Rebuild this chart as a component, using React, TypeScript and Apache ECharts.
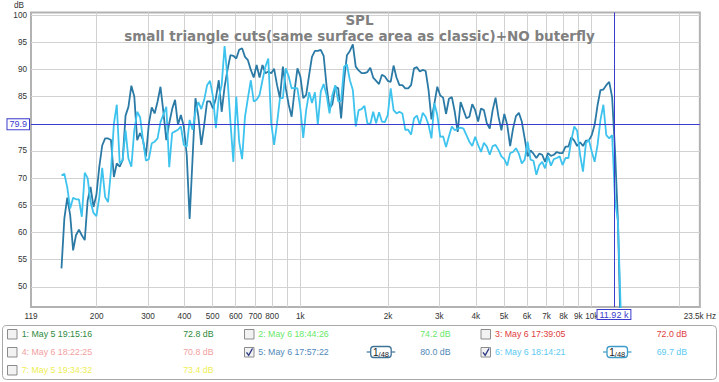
import React, { useEffect, useRef } from "react";
import * as echarts from "echarts";

// ---- data ----
const freqHz = [
  151.4, 154.9, 158.5, 162.2, 166.0, 169.8, 173.8, 177.8, 182.0, 186.2,
  190.5, 195.0, 199.5, 204.2, 208.9, 213.8, 218.8, 223.9, 229.1, 234.4,
  239.9, 245.5, 251.2, 257.0, 263.0, 269.2, 275.4, 281.8, 288.4, 295.1,
  302.0, 309.0, 316.2, 323.6, 331.1, 338.8, 346.7, 354.8, 363.1, 371.5,
  380.2, 389.0, 398.1, 407.4, 416.9, 426.6, 436.5, 446.7, 457.1, 467.7,
  478.6, 489.8, 501.2, 512.9, 524.8, 537.0, 549.5, 562.3, 575.4, 588.8,
  602.6, 616.6, 631.0, 645.7, 660.7, 676.1, 691.8, 707.9, 724.4, 741.3,
  758.6, 776.2, 794.3, 812.8, 831.8, 851.1, 871.0, 891.3, 912.0, 933.3,
  955.0, 977.2, 1000, 1023, 1047, 1072, 1096, 1122, 1148, 1175,
  1202, 1230, 1259, 1288, 1318, 1349, 1380, 1413, 1445, 1479,
  1514, 1549, 1585, 1622, 1660, 1698, 1738, 1778, 1820, 1862,
  1905, 1950, 1995, 2042, 2089, 2138, 2188, 2239, 2291, 2344,
  2399, 2455, 2512, 2570, 2630, 2692, 2754, 2818, 2884, 2951,
  3020, 3090, 3162, 3236, 3311, 3388, 3467, 3548, 3631, 3715,
  3802, 3890, 3981, 4074, 4169, 4266, 4365, 4467, 4571, 4677,
  4786, 4898, 5012, 5129, 5248, 5370, 5495, 5623, 5754, 5888,
  6026, 6166, 6310, 6457, 6607, 6761, 6918, 7079, 7244, 7413,
  7586, 7762, 7943, 8128, 8318, 8511, 8710, 8913, 9120, 9333,
  9550, 9772, 10000, 10233, 10471, 10715, 10965, 11220, 11482, 11749,
  12023, 12303, 12589,
];

// trace 5 (dark blue)
const trace5Db = [
  53.4, 62.6, 66.4, 63.2, 56.7, 59.5, 60.5, 59.5, 58.6, 65.9,
  68.4, 64.7, 66.9, 72.1, 76.0, 77.3, 77.3, 77.0, 70.2, 72.7,
  72.1, 73.3, 81.5, 83.1, 87.0, 85.0, 77.0, 78.3, 77.0, 74.0,
  80.0, 83.0, 81.9, 84.1, 86.8, 82.2, 77.0, 80.1, 82.7, 84.4,
  79.8, 81.6, 79.5, 74.3, 62.5, 73.6, 84.7, 81.3, 76.1, 79.8,
  84.1, 84.1, 82.8, 84.7, 88.0, 82.2, 86.8, 89.9, 92.6, 92.5,
  92.0, 93.6, 93.9, 92.3, 91.7, 89.9, 88.5, 90.8, 88.5, 90.8,
  89.3, 89.6, 89.3, 90.1, 87.1, 84.7, 90.5, 86.5, 83.5, 81.3,
  86.0, 90.2, 88.7, 84.7, 85.3, 89.0, 92.3, 93.4, 93.4, 93.6,
  92.5, 87.0, 82.8, 83.6, 86.8, 86.5, 81.0, 88.0, 92.6, 93.4,
  94.6, 90.5, 89.8, 89.3, 89.3, 89.5, 90.3, 88.5, 87.9, 87.3,
  89.0, 88.7, 87.9, 87.7, 90.7, 88.5, 87.1, 87.1, 86.5, 86.5,
  87.1, 90.2, 90.4, 89.6, 89.9, 89.7, 86.2, 80.8, 83.7, 86.8,
  85.2, 84.8, 81.8, 84.6, 84.9, 82.2, 78.5, 84.0, 82.5, 81.0,
  81.3, 83.6, 82.5, 80.4, 82.8, 82.5, 80.1, 79.1, 82.5, 84.8,
  81.3, 78.8, 81.8, 79.8, 75.9, 79.1, 81.4, 82.0, 80.4, 77.3,
  74.0, 75.1, 74.5, 73.7, 74.5, 74.3, 73.0, 74.6, 74.1, 74.3,
  74.8, 74.6, 74.6, 75.8, 75.8, 77.5, 76.9, 75.9, 76.6, 75.9,
  76.9, 76.9, 77.9, 79.8, 83.4, 86.2, 86.3, 87.1, 87.7, 84.9,
  75.0, 62.0, 40.0,
];

// trace 6 (light blue)
const trace6Db = [
  70.5, 70.8, 68.3, 64.4, 66.4, 66.1, 66.1, 62.9, 71.0, 70.0,
  65.6, 63.6, 63.0, 66.5, 71.9, 66.5, 65.6, 71.4, 80.0, 83.5,
  72.7, 73.3, 78.8, 73.6, 72.1, 78.8, 82.2, 81.2, 77.0, 73.2,
  73.5, 76.4, 76.7, 77.3, 80.3, 81.7, 83.1, 72.0, 78.3, 78.6,
  78.9, 79.5, 76.1, 75.8, 80.7, 78.9, 82.2, 84.0, 82.7, 84.4,
  87.1, 87.9, 85.0, 79.2, 84.8, 87.1, 94.3, 88.4, 80.4, 73.0,
  85.0, 76.7, 73.5, 81.3, 84.7, 88.0, 84.1, 84.4, 85.3, 88.0,
  90.5, 92.0, 80.1, 76.1, 80.1, 84.7, 84.7, 90.2, 88.7, 86.5,
  86.6, 86.5, 82.8, 77.4, 82.5, 85.8, 83.8, 85.8, 79.8, 85.9,
  87.3, 85.3, 81.9, 85.3, 87.1, 84.1, 84.2, 90.5, 90.9, 88.0,
  86.2, 79.5, 82.5, 82.7, 83.3, 80.1, 79.9, 82.2, 80.1, 82.1,
  80.4, 80.3, 81.6, 86.5, 82.5, 81.9, 82.2, 81.9, 78.9, 78.9,
  78.0, 81.0, 81.5, 79.8, 82.0, 81.3, 79.8, 77.3, 83.8, 81.6,
  77.6, 77.7, 75.7, 77.7, 79.5, 78.8, 79.1, 79.3, 79.1, 77.9,
  76.7, 75.9, 77.6, 76.1, 74.8, 76.5, 75.8, 74.3, 75.9, 76.1,
  75.2, 74.0, 73.5, 72.3, 74.6, 74.8, 75.5, 74.5, 72.7, 73.4,
  76.7, 73.4, 73.2, 70.6, 72.4, 73.0, 71.8, 74.0, 72.3, 73.5,
  73.7, 74.0, 72.4, 73.7, 73.7, 77.0, 79.5, 78.7, 74.3, 71.2,
  76.4, 77.1, 74.9, 73.0, 76.1, 80.7, 83.5, 77.9, 77.3, 77.9,
  66.0, 62.0, 45.0,
];

const yTicks = [50, 55, 60, 65, 70, 75, 80, 85, 90, 95, 100];
const yLabelTicks = [50, 55, 60, 65, 70, 75, 85, 90, 95, 100];
const yRange = [46.3, 100.46];
const xRangeHz = [119, 23500];
const xGridHz = [200, 300, 400, 500, 600, 700, 800, 900, 1000, 2000, 3000, 4000, 5000, 6000, 7000, 8000, 9000, 10000, 20000];
const xLabelHz = [119, 200, 300, 400, 500, 600, 700, 800, 1000, 2000, 3000, 4000, 5000, 6000, 7000, 8000, 9000, 10000, 23500];

const cursorHz = 11920;
const cursorDb = 79.9;

const titleText = "SPL";
const subtitleText = "small triangle cuts(same surface area as classic)+NO buterfly";

const legendLabels = [
  "1: May 5 19:15:16", "2: May 6 18:44:26", "3: May 6 17:39:05",
  "4: May 6 18:22:25", "5: May 6 17:57:22", "6: May 6 18:14:21",
  "7: May 5 19:34:32",
];
const legendValues = ["72.8 dB", "74.2 dB", "72.0 dB", "70.8 dB", "80.0 dB", "69.7 dB", "73.4 dB"];
const legendColors = ["#2e8a3e", "#68e868", "#e03c3c", "#f2a0a0", "#5088b8", "#5ccaf2", "#eeee55"];
const legendChecked = [false, false, false, false, true, true, false];
const legendSmoothing = ["", "", "", "", "1/48", "1/48", ""];

const trace5Color = "#2b7aa6";
const trace6Color = "#3ec3ef";
const cursorColor = "#3a3acc";
const FONT = "Liberation Sans, Arial, sans-serif";
const TITLE_FONT = "DejaVu Sans, Verdana, sans-serif";

function fmtHz(v: number): string {
  const f = Math.round(Math.pow(10, v));
  if (f >= 23000) return (f / 1000).toString() + "k Hz";
  if (f >= 1000) return (f / 1000).toString() + "k";
  return String(f);
}

function buildLegend(): any[] {
  const els: any[] = [];
  els.push({
    type: "rect",
    shape: { x: 2.5, y: 325.5, width: 714, height: 54, r: 4 },
    style: { fill: "#ffffff", stroke: "#a8a8a8", lineWidth: 1 },
  });
  const colCheckX = [7.5, 244.5, 481];
  const colTextX = [21.7, 258.3, 495];
  const colIconX = [130, 366.7, 603];
  const colValueRight = [213.5, 450.5, 687];
  const rowY = [334, 352, 370];
  legendLabels.forEach((label, i) => {
    const row = Math.floor(i / 3);
    const col = i % 3;
    const cy = rowY[row];
    const cx = colCheckX[col];
    els.push({
      type: "rect",
      shape: { x: cx, y: cy - 4.5, width: 9.5, height: 9.5 },
      style: { fill: "#f2f2f2", stroke: "#8c8c8c", lineWidth: 1 },
    });
    if (legendChecked[i]) {
      els.push({
        type: "polyline",
        shape: { points: [[cx + 2, cy + 0.3], [cx + 4.2, cy + 3.3], [cx + 8, cy - 3.5]] },
        style: { fill: null, stroke: "#2d3a86", lineWidth: 1.4 },
      });
    }
    els.push({
      type: "text",
      style: {
        text: label, x: colTextX[col], y: cy, fill: legendColors[i],
        fontSize: 8.8, fontFamily: FONT,
        textAlign: "left", align: "left", textVerticalAlign: "middle", verticalAlign: "middle",
      },
    });
    els.push({
      type: "text",
      style: {
        text: legendValues[i], x: colValueRight[col], y: cy, fill: legendColors[i],
        fontSize: 8.8, fontFamily: FONT,
        textAlign: "right", align: "right", textVerticalAlign: "middle", verticalAlign: "middle",
      },
    });
    if (legendSmoothing[i]) {
      const ix = colIconX[col];
      const c = i === 4 ? "#3f7396" : "#3f9cc8";
      els.push({
        type: "line",
        shape: { x1: ix, y1: cy, x2: ix + 28.5, y2: cy },
        style: { stroke: c, lineWidth: 1.2 },
      });
      els.push({
        type: "rect",
        shape: { x: ix + 4, y: cy - 5.5, width: 20.5, height: 11, r: 3 },
        style: { fill: "#ffffff", stroke: c, lineWidth: 1.3 },
      });
      els.push({
        type: "text",
        style: {
          text: "{a|1}{b|/48}", x: ix + 14.3, y: cy + 0.5,
          textAlign: "center", align: "center", textVerticalAlign: "middle", verticalAlign: "middle",
          rich: {
            a: { fontSize: 10, fontFamily: FONT, fill: "#222", color: "#222" },
            b: { fontSize: 7.5, fontFamily: FONT, fill: "#222", color: "#222", padding: [3, 0, 0, 0] },
          },
        },
      });
    }
  });
  return els;
}

export default function App() {
  const ref = useRef<HTMLDivElement>(null);
  useEffect(() => {
    if (!ref.current) return;
    const chart = echarts.init(ref.current, null, { renderer: "svg" });
    const lx = Math.log10;
    const cursorLine = { color: cursorColor, width: 1, type: "solid", opacity: 1 };
    const cursorLabel = {
      show: true,
      color: cursorColor, fontSize: 9, fontFamily: FONT,
      backgroundColor: "#ffffff", borderColor: cursorColor, borderWidth: 1,
    };
    const titleStyle = { fontSize: 13.5, fontWeight: "bold", color: "#808080", fontFamily: TITLE_FONT, lineHeight: 14 };
    const option: any = {
      animation: false,
      backgroundColor: "#ffffff",
      title: [
        { text: titleText, left: "center", top: 12.8, padding: 0, textStyle: titleStyle },
        { text: subtitleText, left: "center", top: 28.8, padding: 0, textStyle: titleStyle },
      ],
      grid: {
        left: 31, right: 14.6, top: 12.5, bottom: 75,
        show: true, borderColor: "#b2b2b2", borderWidth: 2, backgroundColor: "transparent",
      },
      xAxis: {
        type: "value",
        min: lx(xRangeHz[0]),
        max: lx(xRangeHz[1]),
        axisLine: { show: false },
        axisTick: { show: false, customValues: xGridHz.map((v) => lx(v)) },
        splitLine: { show: true, lineStyle: { color: "#d2d2d2", width: 1 } },
        axisLabel: {
          customValues: xLabelHz.map((v) => lx(v)),
          formatter: (v: number) => fmtHz(v),
          showMinLabel: true, showMaxLabel: true,
          margin: 5, fontSize: 8.2, color: "#333", fontFamily: FONT,
        },
      },
      yAxis: {
        type: "value",
        min: yRange[0],
        max: yRange[1],
        axisLine: { show: false },
        axisTick: { show: false, customValues: yTicks },
        splitLine: { show: true, lineStyle: { color: "#d2d2d2", width: 1 } },
        axisLabel: {
          customValues: yLabelTicks, showMinLabel: true, showMaxLabel: true,
          margin: 4, fontSize: 8.2, color: "#333", fontFamily: FONT,
        },
      },
      graphic: [
        {
          type: "text",
          style: {
            text: "dB", x: 24, y: 5, fill: "#333", fontSize: 8.2, fontFamily: FONT,
            textAlign: "right", align: "right", textVerticalAlign: "middle", verticalAlign: "middle",
          },
        },
        ...buildLegend(),
      ],
      series: [
        {
          type: "line",
          name: legendLabels[4],
          data: freqHz.map((f, i) => [lx(f), trace5Db[i]]),
          showSymbol: false,
          symbol: "none",
          lineStyle: { color: trace5Color, width: 1.8 },
          itemStyle: { color: trace5Color },
          z: 3,
        },
        {
          type: "line",
          name: legendLabels[5],
          data: freqHz.map((f, i) => [lx(f), trace6Db[i]]),
          showSymbol: false,
          symbol: "none",
          lineStyle: { color: trace6Color, width: 1.8 },
          itemStyle: { color: trace6Color },
          z: 4,
          markLine: {
            silent: true,
            symbol: ["none", "none"],
            animation: false,
            lineStyle: cursorLine,
            itemStyle: { color: cursorColor },
            emphasis: { disabled: true },
            data: [
              {
                yAxis: cursorDb,
                lineStyle: cursorLine,
                itemStyle: { color: cursorColor },
                label: {
                  ...cursorLabel, position: "start", distance: 2,
                  formatter: cursorDb.toFixed(1), padding: [1, 2, 0, 2],
                },
              },
              [
                {
                  coord: [lx(cursorHz), yRange[0]],
                  lineStyle: cursorLine,
                  itemStyle: { color: cursorColor },
                  label: {
                    ...cursorLabel, position: "start", distance: 3,
                    formatter: (cursorHz / 1000).toFixed(2) + " k", padding: [0, 2, 0, 2],
                  },
                },
                { coord: [lx(cursorHz), yRange[1]] },
              ],
            ],
          },
        },
      ],
    };
    chart.setOption(option);
    return () => chart.dispose();
  }, []);
  return (
    <div
      ref={ref}
      style={{ position: "absolute", left: 0, top: 0, width: 719, height: 382, background: "#fff" }}
    />
  );
}
